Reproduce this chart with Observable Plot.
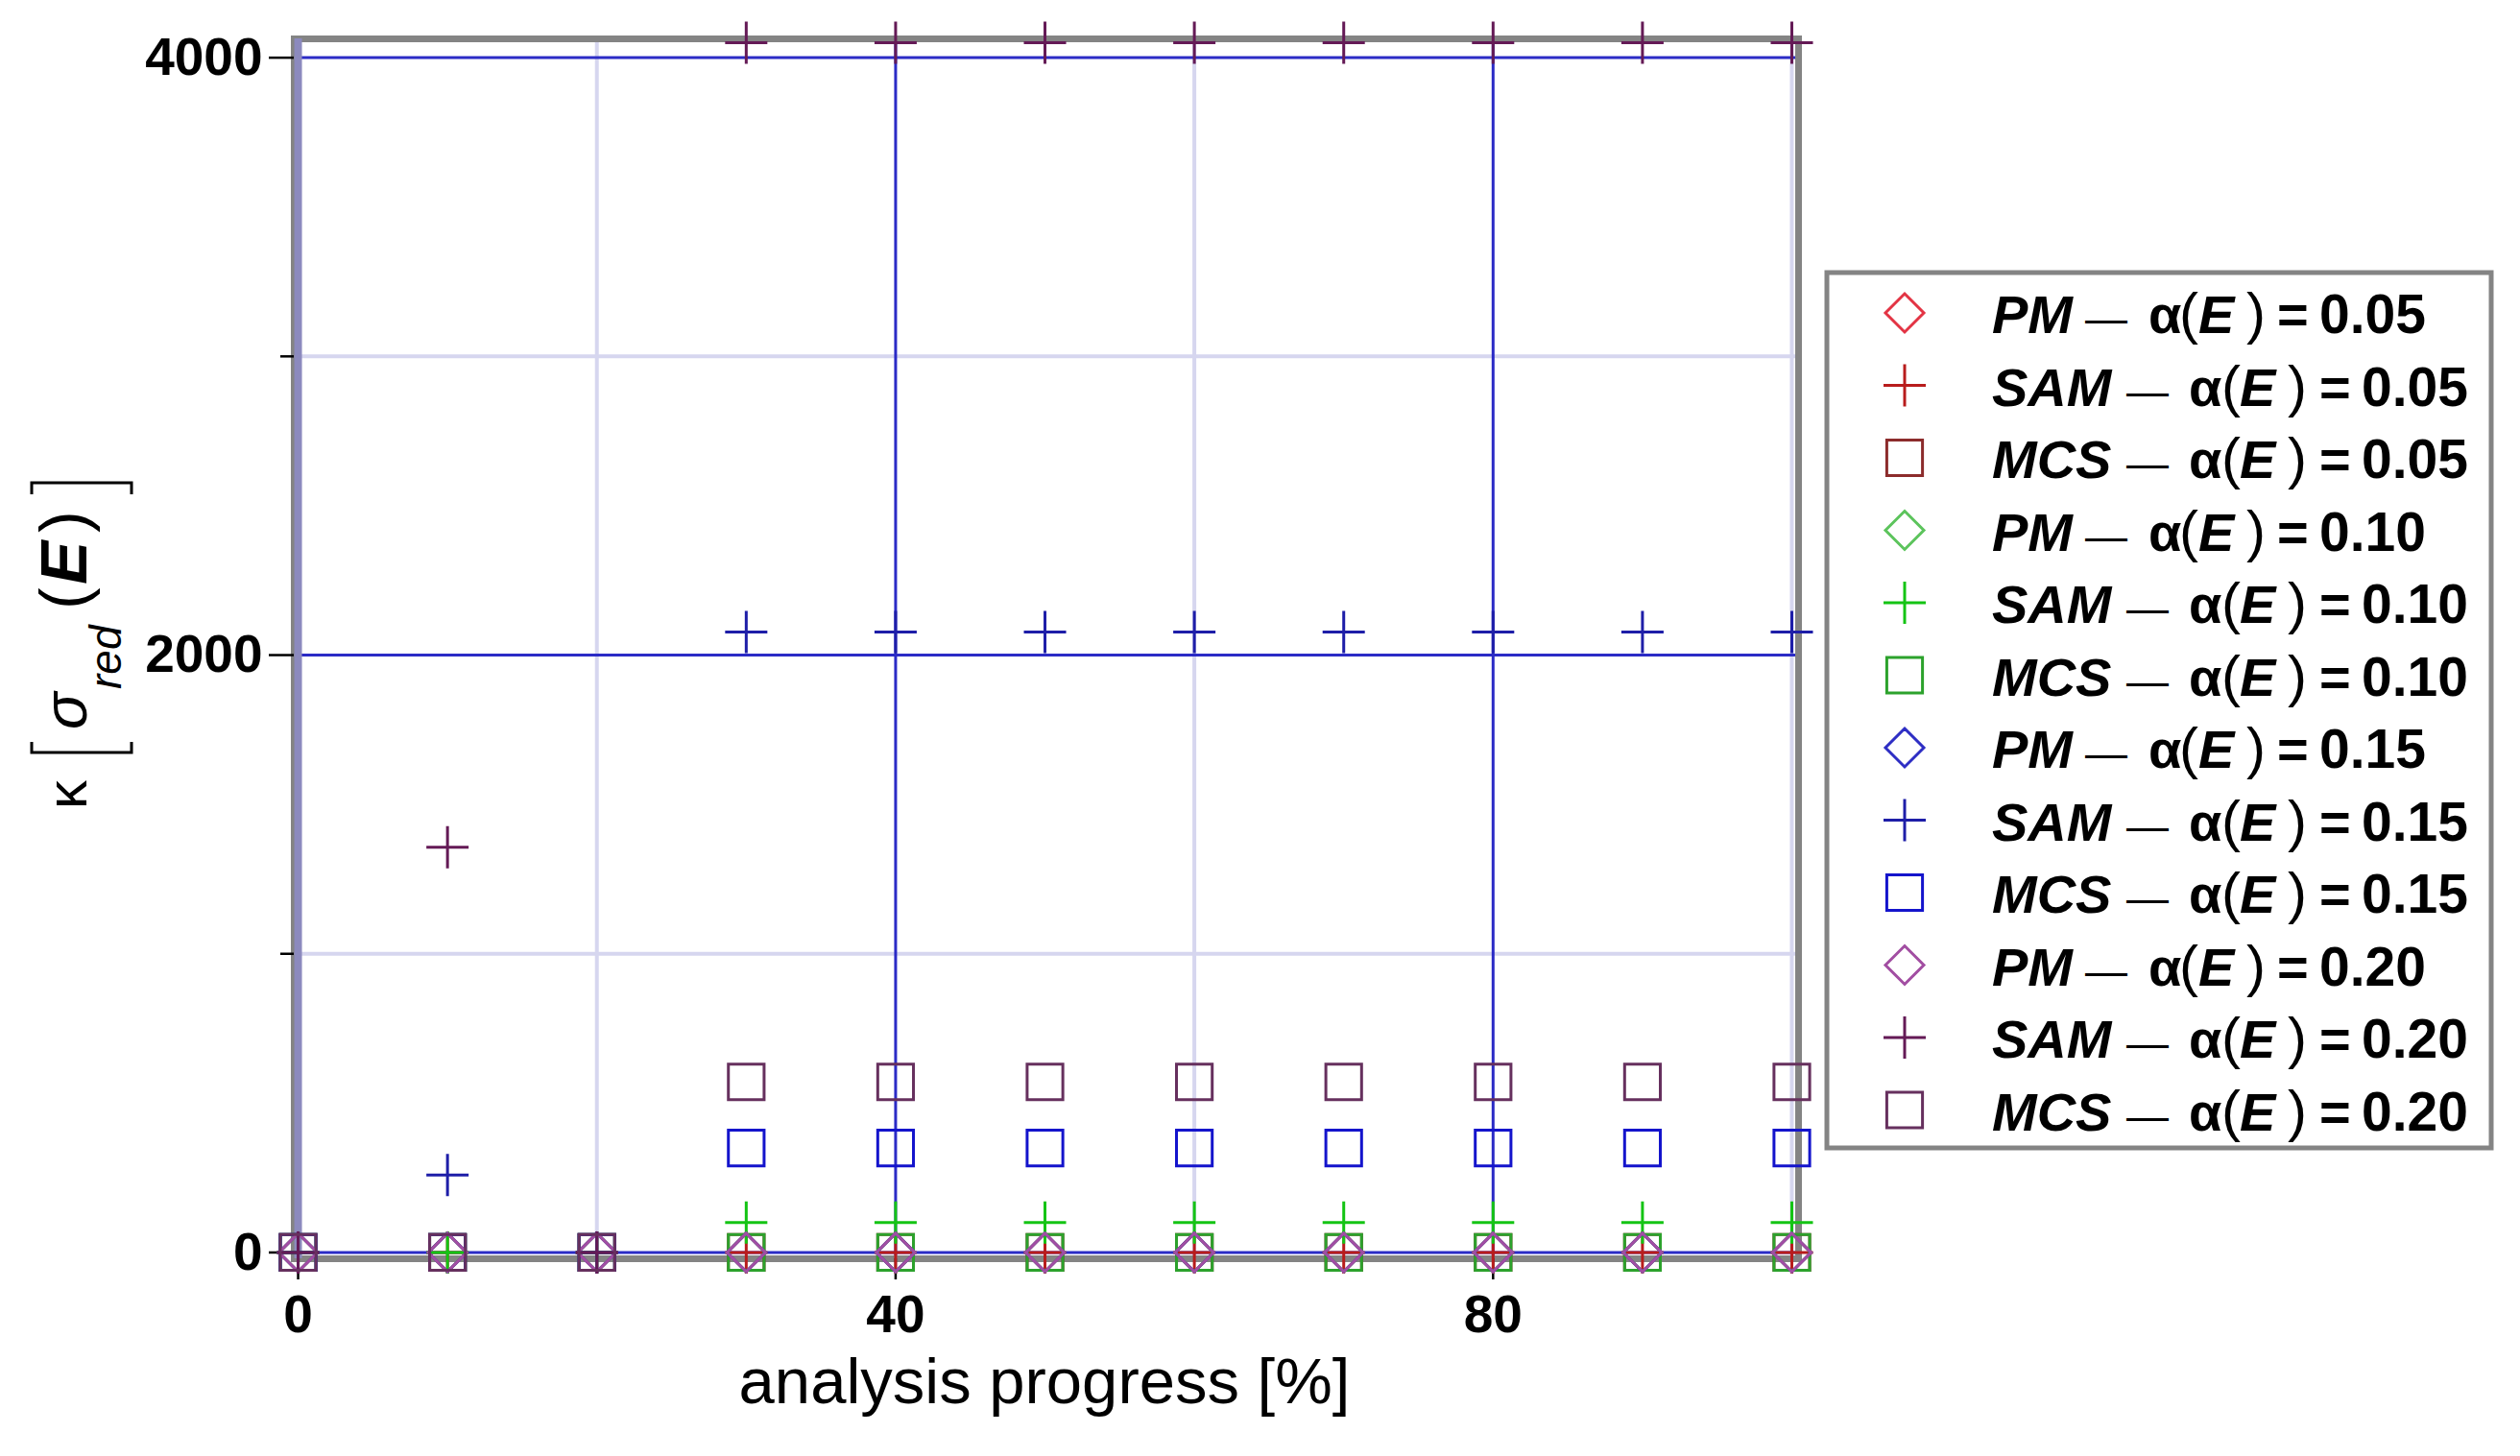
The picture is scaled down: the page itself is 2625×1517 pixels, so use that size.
<!DOCTYPE html>
<html><head><meta charset="utf-8">
<script src="https://cdn.jsdelivr.net/npm/d3@7"></script>
<script src="https://cdn.jsdelivr.net/npm/@observablehq/plot@0.6"></script>
<style>html,body{margin:0;padding:0;background:#fff;} #chart{width:2625px;height:1517px;}</style>
</head><body><div id="chart"></div>
<script>
// ---- data ----
const progress = [0, 10, 20, 30, 40, 50, 60, 70, 80, 90, 100];
const pm005  = [0, 0, 0, 0, 0, 0, 0, 0, 0, 0, 0];
const sam005 = [0, 0, 0, 0, 0, 0, 0, 0, 0, 0, 0];
const mcs005 = [0, 0, 0, 0, 0, 0, 0, 0, 0, 0, 0];
const pm010  = [0, 0, 0, 0, 0, 0, 0, 0, 0, 0, 0];
const sam010 = [0, 0, 0, 100, 100, 100, 100, 100, 100, 100, 100];
const mcs010 = [0, 0, 0, 0, 0, 0, 0, 0, 0, 0, 0];
const pm015  = [0, 0, 0, 0, 0, 0, 0, 0, 0, 0, 0];
const sam015 = [0, 259, 0, 2077, 2077, 2077, 2077, 2077, 2077, 2077, 2077];
const mcs015 = [0, 0, 0, 350, 350, 350, 350, 350, 350, 350, 350];
const pm020  = [0, 0, 0, 0, 0, 0, 0, 0, 0, 0, 0];
const sam020 = [0, 1357, 0, 4050, 4050, 4050, 4050, 4050, 4050, 4050, 4050];
const mcs020 = [0, 0, 0, 571, 571, 571, 571, 571, 571, 571, 571];

const methods = ["PM", "SAM", "MCS"];
const alphas = ["0.05", "0.10", "0.15", "0.20"];
const seriesValues = [pm005, sam005, mcs005, pm010, sam010, mcs010, pm015, sam015, mcs015, pm020, sam020, mcs020];
const seriesColors = ["#e33444", "#b81c1c", "#8c2c2c", "#5cc45c", "#14c414", "#2ca22c", "#2e2ec4", "#1e1ea8", "#1414cc", "#a24ea2", "#641a56", "#66305e"];

const yTicks = [0, 2000, 4000];
const yMinorTicks = [1000, 3000];
const xTicks = [0, 40, 80];
const xMinorGrid = [20, 60, 100];
const xMajorGrid = [40, 80];
const yMajorGrid = [0, 2000, 4000];
const yMinorGrid = [1000, 3000];
const xLabel = "analysis progress [%]";

// ---- symbols ----
const symR = size => Math.sqrt(size / Math.PI);
const diamondSym = {draw(c, size) { const r = symR(size); c.moveTo(0, -r); c.lineTo(r, 0); c.lineTo(0, r); c.lineTo(-r, 0); c.closePath(); }};
const plusSym = {draw(c, size) { const r = symR(size) * 1.1; c.moveTo(-r, 0); c.lineTo(r, 0); c.moveTo(0, -r); c.lineTo(0, r); }};
const squareSym = {draw(c, size) { const h = symR(size) * 0.93; c.rect(-h, -h, 2 * h, 2 * h); }};
const methodSym = {PM: diamondSym, SAM: plusSym, MCS: squareSym};

const series = [];
alphas.forEach((a, ai) => methods.forEach((m, mi) => {
  const k = ai * 3 + mi;
  series.push({method: m, alpha: a, color: seriesColors[k], symbol: methodSym[m],
    data: progress.map((p, i) => ({progress: p, value: seriesValues[k][i]}))});
}));

const FONT = "Liberation Sans, Arial, Helvetica, sans-serif";

const plot = Plot.plot({
  width: 2625, height: 1517,
  marginLeft: 306, marginRight: 752, marginTop: 40, marginBottom: 206,
  style: {fontFamily: FONT, background: "white", overflow: "visible"},
  x: {domain: [-0.26, 100.45]},
  y: {domain: [-21, 4063]},
  marks: [
    Plot.ruleX(xMinorGrid, {stroke: "#d6d6ef", strokeWidth: 4}),
    Plot.ruleY(yMinorGrid, {stroke: "#d6d6ef", strokeWidth: 4}),
    Plot.ruleX(xMajorGrid, {stroke: "#2b2bc6", strokeWidth: 3}),
    Plot.ruleY(yMajorGrid, {stroke: "#2b2bc6", strokeWidth: 3}),
    Plot.frame({stroke: "#848484", strokeWidth: 7}),
    Plot.ruleX([0], {stroke: "#8c8abe", strokeWidth: 8}),
    Plot.axisY(yTicks, {anchor: "left", tickSize: 26, tickPadding: 7, tickFormat: d => String(d),
      fontSize: 55, fontWeight: "bold", fontFamily: FONT, strokeWidth: 2.5, label: null}),
    Plot.axisY(yMinorTicks, {anchor: "left", tickSize: 14, tickFormat: () => "", strokeWidth: 2.5, label: null}),
    Plot.axisX(xTicks, {anchor: "bottom", tickSize: 22, tickPadding: 15, tickFormat: d => String(d),
      fontSize: 55, fontWeight: "bold", fontFamily: FONT, strokeWidth: 2.5, label: null}),
    ...series.map(s => Plot.dot(s.data, {x: "progress", y: "value", r: 20, symbol: s.symbol,
      stroke: s.color, fill: "none", strokeWidth: 3}))
  ]
});
document.getElementById("chart").append(plot);

const svg = d3.select(plot);

// x label
svg.append("text").attr("x", 1088).attr("y", 1462).attr("text-anchor", "middle")
  .attr("font-family", FONT).attr("font-size", 67).attr("fill", "black").text(xLabel);

// y label (rotated)
const yl = svg.append("g").attr("transform", "translate(90,843) rotate(-90)")
  .attr("font-family", FONT).attr("fill", "black").attr("text-anchor", "start");
yl.append("text").attr("x", 0).attr("y", 0).attr("font-size", 60).text("κ");
yl.append("path").attr("d", "M70,-57H59V47H70").attr("fill", "none").attr("stroke", "black").attr("stroke-width", 3);
yl.append("text").attr("x", 83).attr("y", 0).attr("font-size", 64).attr("font-style", "italic").text("σ");
yl.append("text").attr("x", 125).attr("y", 36).attr("font-size", 46).attr("font-style", "italic").text("red");
yl.append("text").attr("x", 208).attr("y", 0).attr("font-size", 68).text("(");
yl.append("text").attr("x", 234).attr("y", 0).attr("font-size", 68).attr("font-weight", "bold").attr("font-style", "italic").text("E");
yl.append("text").attr("x", 288).attr("y", 0).attr("font-size", 68).text(")");
yl.append("path").attr("d", "M328,-57H340V47H328").attr("fill", "none").attr("stroke", "black").attr("stroke-width", 3);

// legend
const lg = svg.append("g").attr("font-family", FONT).attr("fill", "black").attr("text-anchor", "start");
lg.append("rect").attr("x", 1903).attr("y", 284).attr("width", 692).attr("height", 912)
  .attr("fill", "white").attr("stroke", "#848484").attr("stroke-width", 5);
series.forEach((s, i) => {
  const cy = 326 + i * 75.5;
  lg.append("path").attr("transform", `translate(1984,${cy})`)
    .attr("d", d3.symbol(s.symbol, Math.PI * 400)())
    .attr("fill", "none").attr("stroke", s.color).attr("stroke-width", 3);
  const base = cy + 21;
  const p = s.method === "PM"
    ? {dash: 2172, a: 2238, lp: 2270, E: 2290, rp: 2340, eq: 2372, num: 2416}
    : {dash: 2215, a: 2280, lp: 2314, E: 2333, rp: 2383, eq: 2416, num: 2460};
  const t = (x, str, size, weight, style) => lg.append("text").attr("x", x).attr("y", base)
    .attr("font-size", size).attr("font-weight", weight).attr("font-style", style).text(str);
  t(2075, s.method, 56, "bold", "italic");
  t(p.dash, "—", 44, "normal", "normal");
  t(p.a, "α", 56, "bold", "normal");
  t(p.lp, "(", 60, "normal", "normal");
  t(p.E, "E", 56, "bold", "italic");
  t(p.rp, ")", 60, "normal", "normal");
  t(p.eq, "=", 56, "bold", "normal");
  t(p.num, s.alpha, 57, "bold", "normal");
});
</script>
</body></html>
